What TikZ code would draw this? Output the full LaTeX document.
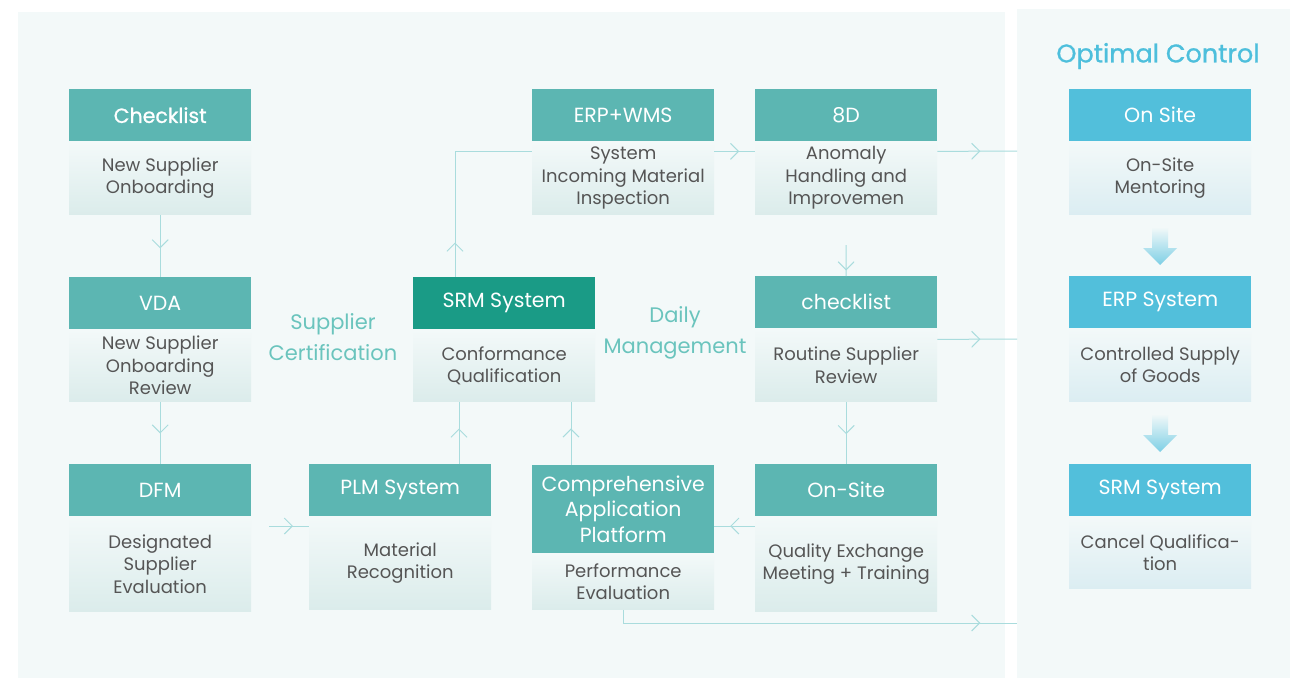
\documentclass[tikz,border=0pt]{standalone}
\usepackage{fontspec}
\setmainfont{Poppins}
\newfontfamily\popmed{Poppins}[FakeBold=0.9]
\usetikzlibrary{arrows.meta,decorations.markings,calc}
\definecolor{hdr}{HTML}{5CB6B2}
\definecolor{hdrdark}{HTML}{1A9B86}
\definecolor{hdrblue}{HTML}{52BFDB}
\definecolor{panel}{HTML}{F3F9F9}
\definecolor{subtop}{HTML}{F3F9F9}
\definecolor{subbot}{HTML}{DBECEB}
\definecolor{subbotb}{HTML}{DBEDF2}
\definecolor{subtxt}{HTML}{555555}
\definecolor{lbl}{HTML}{6AC4BD}
\definecolor{linec}{HTML}{A9DCDD}
\definecolor{optc}{HTML}{4DBFDC}
\definecolor{arrb}{HTML}{7DCFE5}
\tikzset{
  hbox/.style={fill=hdr, text=white, minimum width=182pt, minimum height=52pt,
    inner sep=0pt, anchor=north west, align=center, font=\fontsize{20.5}{25.5}\selectfont},
  rbox/.style={hbox, fill=hdrblue},
  sbox/.style={top color=subtop, bottom color=subbot, text=subtxt, minimum width=182pt,
    minimum height=#1, inner sep=0pt, anchor=north, align=center,
    font=\fontsize{18}{22.5}\selectfont},
  rsbox/.style={sbox=#1, bottom color=subbotb},
  grouplbl/.style={text=lbl, align=center, font=\fontsize{21}{31}\selectfont},
  conn/.style={draw=linec, line width=1pt, postaction={decorate},
    decoration={markings, mark=at position #1 with {\arrow[linec]{Straight Barb[length=8pt,width=16pt,line width=1pt]}}}},
  conn/.default=0.55,
  bigarrow/.style={top color=panel, bottom color=arrb, draw=none}
}
\begin{document}
\begin{tikzpicture}[x=1pt,y=-1pt]
\useasboundingbox (0,0) rectangle (1290,678);
\fill[white] (0,0) rectangle (1290,678);
\fill[panel] (18,12) rectangle (1005,678);
\fill[panel] (1017,9) rectangle (1290,678);

% column 1
\node[hbox, font=\popmed\fontsize{20.5}{25.5}\selectfont] (chk) at (69,89) {Checklist};
\node[sbox=73pt] (chks) at (chk.south) {New Supplier\\Onboarding};
\node[hbox] (vda) at (69,277) {VDA};
\node[sbox=72pt] (vdas) at (vda.south) {New Supplier\\Onboarding\\Review};
\node[hbox] (dfm) at (69,464) {DFM};
\node[sbox=95pt] (dfms) at (dfm.south) {Designated\\Supplier\\Evaluation};

% column 2/3
\node[hbox] (plm) at (309,464) {PLM System};
\node[sbox=93pt] (plms) at (plm.south) {Material\\Recognition};
\node[hbox, fill=hdrdark] (srm) at (413,277) {SRM System};
\node[sbox=72pt] (srms) at (srm.south) {Conformance\\Qualification};
\node[hbox, minimum height=88pt] (cap) at (532,465) {Comprehensive\\Application\\Platform};
\node[sbox=56pt] (caps) at (cap.south) {Performance\\Evaluation};
\node[hbox] (erp) at (532,89) {ERP+WMS};
\node[sbox=73pt] (erps) at (erp.south) {System\\Incoming Material\\Inspection};

% column 4
\node[hbox] (ed) at (755,89) {8D};
\node[sbox=73pt] (eds) at (ed.south) {Anomaly\\Handling and\\Improvemen};
\node[hbox] (ck2) at (755,276) {checklist};
\node[sbox=73pt] (ck2s) at (ck2.south) {Routine Supplier\\Review};
\node[hbox] (ons) at (755,464) {On-Site};
\node[sbox=95pt] (onss) at (ons.south) {Quality Exchange\\Meeting + Training};

% labels
\node[grouplbl] (sc) at (333,337) {Supplier\\Certification};
\node[grouplbl] (dm) at (675,333) {Daily\\Management};

% right panel
\node[text=optc, font=\popmed\fontsize{25.5}{30}\selectfont] (oc) at (1158,56) {Optimal Control};
\node[rbox] (r1) at (1069,89) {On Site};
\node[rsbox=73pt] (r1s) at (r1.south) {On-Site\\Mentoring};
\node[rbox] (r2) at (1069,276) {ERP System};
\node[rsbox=73pt] (r2s) at (r2.south) {Controlled Supply\\of Goods};
\node[rbox] (r3) at (1069,464) {SRM System};
\node[rsbox=72pt] (r3s) at (r3.south) {Cancel Qualifica-\\tion};

\shade[bigarrow] (1152,227) -- (1168,227) -- (1168,248) -- (1177,248) -- (1160,265)
  -- (1143,248) -- (1152,248) -- cycle;
\shade[bigarrow] (1152,414) -- (1168,414) -- (1168,435) -- (1177,435) -- (1160,452)
  -- (1143,435) -- (1152,435) -- cycle;

% connectors
\draw[conn=0.54] (chks.south) -- (vda.north);
\draw[conn=0.51] (vdas.south) -- (dfm.north);
\coordinate (a1) at (269,526);
\draw[conn=0.6] (a1) -- (a1 -| plm.west);
\draw[conn=0.57] ($(plm.north west)+(150,0)$) -- ($(srms.south west)+(46,0)$);
\draw[conn=0.58] ($(cap.north west)+(39,0)$) -- ($(srms.south west)+(158,0)$);
\draw[conn=0.17] ($(srm.north west)+(42,0)$) |- ($(erps.north west)+(0,10)$);
\draw[conn=0.61] ($(erps.north east)+(0,10)$) -- ($(eds.north west)+(0,10)$);
\coordinate (e1) at (1017,151);
\draw[conn=0.54] ($(eds.north east)+(0,10)$) -- (e1);
\coordinate (d1) at (846,245);
\draw[conn=0.82] (d1) -- (ck2.north);
\coordinate (e2) at (1017,339);
\draw[conn=0.54] ($(ck2s.north east)+(0,11)$) -- (e2);
\draw[conn=0.52] (ck2s.south) -- (ons.north);
\draw[conn=0.61] ($(ons.north west)+(0,62)$) -- ($(cap.north east)+(0,61)$);
\coordinate (e3) at (1017,623);
\draw[conn=0.91] (caps.south) |- (e3);
\end{tikzpicture}
\end{document}
